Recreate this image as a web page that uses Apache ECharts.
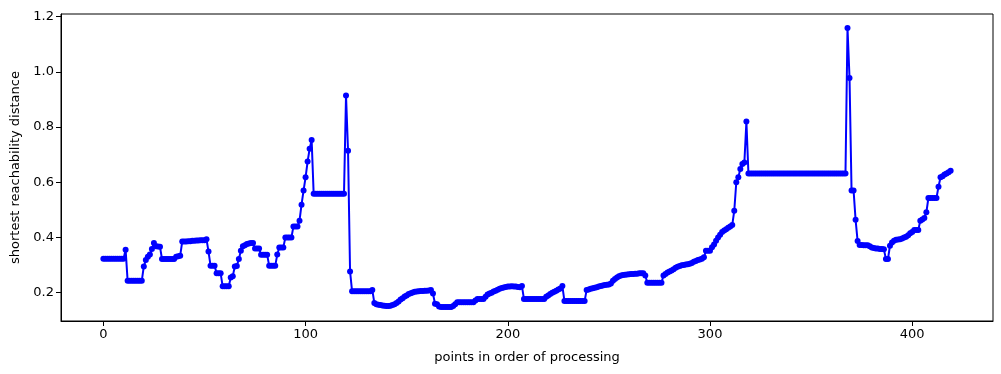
<!DOCTYPE html>
<html>
<head>
<meta charset="utf-8">
<script src="https://cdn.jsdelivr.net/npm/echarts@6/dist/echarts.min.js"></script>
<style>
html,body{margin:0;padding:0;background:#fff;}
#chart{width:1001px;height:374px;}
</style>
</head>
<body>
<div id="chart"></div>
<script>
// reachability distance of each point, in order of processing (index = position)
const reachability = [
  0.323,0.323,0.323,0.323,0.323,0.323,0.323,0.323,0.323,0.323,
  0.323,0.356,0.243,0.243,0.243,0.243,0.243,0.243,0.243,0.243,
  0.295,0.318,0.330,0.338,0.358,0.380,0.368,0.367,0.366,0.322,
  0.322,0.322,0.322,0.322,0.322,0.322,0.330,0.332,0.334,0.385,
  0.385,0.385,0.386,0.386,0.388,0.388,0.389,0.389,0.390,0.390,
  0.390,0.394,0.349,0.298,0.298,0.298,0.270,0.270,0.270,0.223,
  0.223,0.223,0.223,0.255,0.260,0.295,0.297,0.322,0.352,0.368,
  0.372,0.376,0.378,0.380,0.380,0.360,0.360,0.360,0.337,0.337,
  0.337,0.337,0.298,0.298,0.298,0.298,0.338,0.364,0.364,0.364,
  0.400,0.400,0.400,0.400,0.440,0.440,0.440,0.461,0.519,0.570,
  0.618,0.675,0.721,0.753,0.558,0.558,0.558,0.558,0.558,0.558,
  0.558,0.558,0.558,0.558,0.558,0.558,0.558,0.558,0.558,0.558,
  0.914,0.714,0.277,0.205,0.205,0.205,0.205,0.205,0.205,0.205,
  0.205,0.205,0.205,0.210,0.163,0.158,0.156,0.155,0.154,0.153,
  0.152,0.152,0.153,0.155,0.158,0.163,0.168,0.175,0.180,0.186,
  0.190,0.195,0.198,0.201,0.203,0.204,0.205,0.206,0.206,0.207,
  0.207,0.208,0.210,0.197,0.160,0.158,0.150,0.148,0.148,0.148,
  0.148,0.148,0.148,0.152,0.158,0.165,0.165,0.165,0.165,0.165,
  0.165,0.165,0.165,0.165,0.172,0.177,0.177,0.177,0.177,0.185,
  0.193,0.197,0.200,0.204,0.207,0.211,0.214,0.217,0.219,0.221,
  0.222,0.222,0.223,0.222,0.222,0.221,0.220,0.224,0.177,0.177,
  0.177,0.177,0.177,0.177,0.177,0.177,0.177,0.177,0.177,0.185,
  0.190,0.195,0.200,0.203,0.207,0.212,0.215,0.224,0.170,0.170,
  0.170,0.170,0.170,0.170,0.170,0.170,0.170,0.170,0.170,0.210,
  0.212,0.214,0.216,0.218,0.220,0.222,0.224,0.226,0.228,0.229,
  0.230,0.233,0.243,0.250,0.255,0.260,0.262,0.264,0.265,0.266,
  0.267,0.268,0.268,0.269,0.269,0.270,0.270,0.270,0.262,0.236,
  0.236,0.236,0.236,0.236,0.236,0.236,0.236,0.262,0.268,0.273,
  0.277,0.280,0.285,0.290,0.294,0.297,0.299,0.300,0.302,0.303,
  0.305,0.308,0.312,0.315,0.318,0.320,0.323,0.328,0.352,0.352,
  0.352,0.365,0.375,0.388,0.400,0.410,0.420,0.425,0.430,0.435,
  0.440,0.445,0.497,0.600,0.618,0.648,0.666,0.672,0.820,0.632,
  0.632,0.632,0.632,0.632,0.632,0.632,0.632,0.632,0.632,0.632,
  0.632,0.632,0.632,0.632,0.632,0.632,0.632,0.632,0.632,0.632,
  0.632,0.632,0.632,0.632,0.632,0.632,0.632,0.632,0.632,0.632,
  0.632,0.632,0.632,0.632,0.632,0.632,0.632,0.632,0.632,0.632,
  0.632,0.632,0.632,0.632,0.632,0.632,0.632,0.632,1.159,0.978,
  0.570,0.570,0.464,0.387,0.373,0.373,0.372,0.372,0.372,0.368,
  0.364,0.362,0.360,0.360,0.358,0.358,0.357,0.322,0.322,0.370,
  0.382,0.388,0.392,0.393,0.394,0.396,0.400,0.403,0.408,0.415,
  0.420,0.427,0.427,0.427,0.461,0.465,0.471,0.491,0.543,0.543,
  0.543,0.543,0.543,0.584,0.618,0.622,0.628,0.632,0.636,0.642
];
const xTicks = [0, 100, 200, 300, 400];
const yTicks = [0.2, 0.4, 0.6, 0.8, 1.0, 1.2];
const xLabel = 'points in order of processing';
const yLabel = 'shortest reachability distance';

const points = reachability.map((v, i) => [i, v]);
const n = reachability.length;
const yMinData = Math.min(...reachability), yMaxData = Math.max(...reachability);
const xPad = (n - 1) * 0.05, yPad = (yMaxData - yMinData) * 0.05;

const font = 'DejaVu Sans';
const chart = echarts.init(document.getElementById('chart'), null, {renderer: 'canvas'});
chart.setOption({
  animation: false,
  backgroundColor: '#ffffff',
  grid: {left: 61, right: 8, top: 14, bottom: 53, show: true, borderColor: '#000', borderWidth: 1, backgroundColor: 'transparent'},
  xAxis: {
    type: 'value',
    min: -xPad, max: n - 1 + xPad,
    name: xLabel, nameLocation: 'middle', nameGap: 30,
    nameTextStyle: {fontFamily: font, fontSize: 13, color: '#000'},
    axisLine: {show: true, onZero: false, lineStyle: {color: '#000', width: 1}},
    axisTick: {show: true, length: 5, inside: false, customValues: xTicks, lineStyle: {color: '#000'}},
    axisLabel: {customValues: xTicks, fontFamily: font, fontSize: 13, color: '#000', margin: 7},
    splitLine: {show: false}
  },
  yAxis: {
    type: 'value',
    min: yMinData - yPad, max: yMaxData + yPad,
    name: yLabel, nameLocation: 'middle', nameGap: 37, nameRotate: 90,
    nameTextStyle: {fontFamily: font, fontSize: 13, color: '#000'},
    axisLine: {show: true, onZero: false, lineStyle: {color: '#000', width: 1}},
    axisTick: {show: true, length: 5, inside: false, customValues: yTicks, lineStyle: {color: '#000'}},
    axisLabel: {customValues: yTicks, fontFamily: font, fontSize: 13, color: '#000', margin: 7,
      formatter: v => v.toFixed(1)},
    splitLine: {show: false}
  },
  series: [{
    type: 'line',
    data: points,
    symbol: 'circle',
    symbolSize: 6,
    showAllSymbol: true,
    lineStyle: {color: '#0000ff', width: 2},
    itemStyle: {color: '#0000ff'},
    emphasis: {disabled: true}
  }]
});
</script>
</body>
</html>
